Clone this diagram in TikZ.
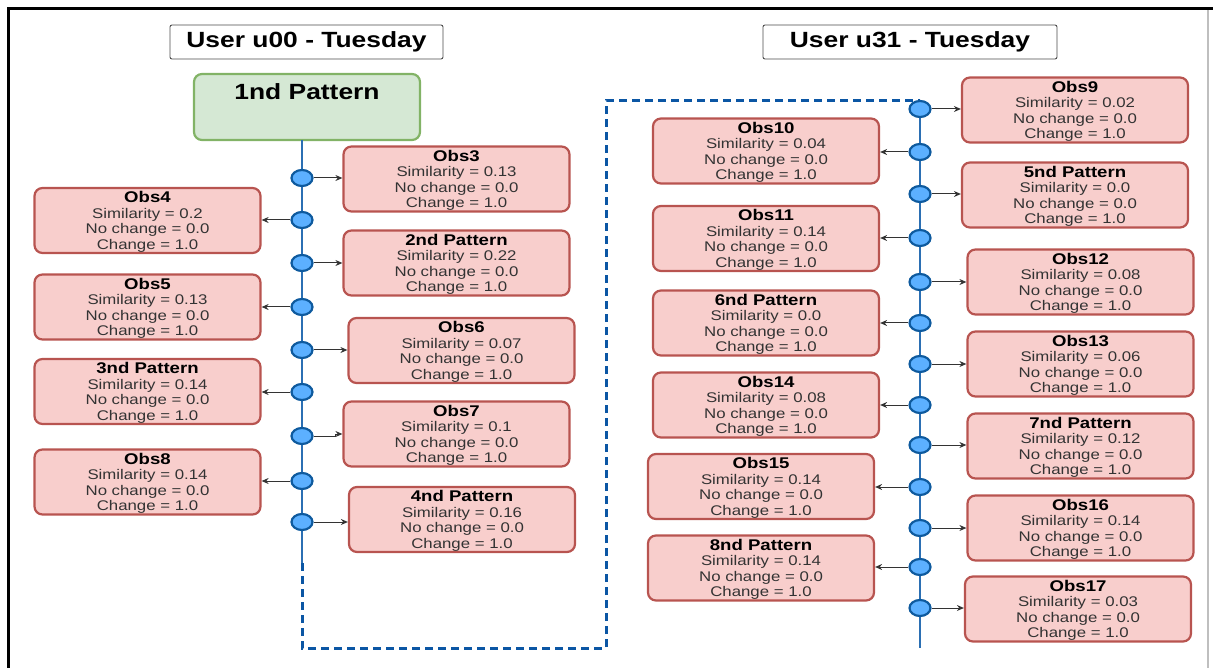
\documentclass[tikz,border=0pt]{standalone}
\usepackage{fontspec}
\setmainfont{Liberation Sans}[FakeStretch=1.2]
\usetikzlibrary{arrows.meta,shapes.geometric}

\definecolor{obsfill}{HTML}{F8CECC}
\definecolor{obsline}{HTML}{B85450}
\definecolor{patfill}{HTML}{D5E8D4}
\definecolor{patline}{HTML}{82B366}
\definecolor{dotfill}{HTML}{5CB0FF}
\definecolor{dotline}{HTML}{0E5A9E}
\definecolor{spineblue}{HTML}{2B6FB3}
\definecolor{bridgeblue}{HTML}{0B56A4}

\newcommand{\obstext}[2]{{\color{black}\fontsize{15.5}{15.5}\selectfont\bfseries #1}\\Similarity = #2\\No change = 0.0\\Change = 1.0}

\begin{document}
\begin{tikzpicture}[
  x=1pt, y=-1pt,
  font=\fontsize{14}{15.5}\selectfont,
  obs/.style={draw=obsline, fill=obsfill, line width=2.2pt, rounded corners=8pt, minimum width=226pt, minimum height=65pt, inner sep=0pt, text depth=0pt, align=center, text=black!80},
  pat/.style={draw=patline, fill=patfill, line width=2.2pt, rounded corners=8pt, minimum width=226pt, minimum height=66pt, inner sep=0pt, text height=26pt, text depth=40pt, font=\fontsize{22}{24}\selectfont\bfseries},
  user/.style={draw=black!70, fill=white, line width=0.9pt, rounded corners=2pt, minimum height=34pt, inner sep=0pt, font=\fontsize{22}{24}\selectfont\bfseries},
  dot/.style={ellipse, draw=dotline, fill=dotfill, line width=2.2pt, minimum width=21pt, minimum height=16pt, inner sep=0pt},
  spine/.style={draw=spineblue, line width=2.4pt},
  bridge/.style={draw=bridgeblue, line width=3pt, dash pattern=on 8pt off 5pt},
  link/.style={-{Stealth[length=7pt,width=6pt]}, line width=1pt, draw=black!80}
]

\useasboundingbox (0,0) rectangle (1213,668);

% frame
\draw[line width=3pt] (1213,9) -- (8,9) -- (8,668);
\draw[black!25, line width=1.2pt] (1208,10.5) -- (1208,668);

\node[user, minimum width=273pt] (u00) at (306.5,42) {User u00 - Tuesday};
\node[user, minimum width=294pt] (u31) at (910,42) {User u31 - Tuesday};

\node[pat] (pat1) at (307,107) {1nd Pattern};

% time lines
\coordinate (ltop) at (302,140);
\coordinate (lend) at (302,563);
\coordinate (lbot) at (302,648);
\coordinate (rtop) at (920,101);
\coordinate (rend) at (920,648);
\draw[spine] (ltop) -- (lend);
\draw[spine] (rtop) -- (rend);
\draw[bridge] (lend) -- (lbot) -| (606,101) -- (rtop);

\foreach \i/\y in {1/178,2/220,3/263,4/307,5/350,6/392,7/436,8/481,9/522}
  \node[dot] (l\i) at (302,\y) {};
\foreach \i/\y in {1/109,2/152,3/194,4/238,5/282,6/323,7/364,8/405,9/445,10/487,11/528,12/567,13/608}
  \node[dot] (r\i) at (920,\y) {};

% user u00
\foreach \i/\x/\y/\t/\s in {1/456.5/179/Obs3/0.13, 2/147.5/220.5/Obs4/0.2,
    3/456.5/263/2nd Pattern/0.22, 4/147.5/307/Obs5/0.13, 5/461.5/350.5/Obs6/0.07,
    6/147.5/391.5/3nd Pattern/0.14, 7/456.5/434/Obs7/0.1, 8/147.5/482/Obs8/0.14,
    9/462/519.5/4nd Pattern/0.16}
  \node[obs] (lb\i) at (\x,\y) {\obstext{\t}{\s}};

% user u31
\foreach \i/\x/\y/\t/\s in {1/1075/110/Obs9/0.02, 2/766/151/Obs10/0.04,
    3/1075/195/5nd Pattern/0.0, 4/766/238.5/Obs11/0.14, 5/1080.5/282/Obs12/0.08,
    6/766/323/6nd Pattern/0.0, 7/1080.5/364/Obs13/0.06, 8/766/405/Obs14/0.08,
    9/1080.5/446/7nd Pattern/0.12, 10/761/486.5/Obs15/0.14, 11/1080.5/528/Obs16/0.14,
    12/761/568/8nd Pattern/0.14, 13/1078/609/Obs17/0.03}
  \node[obs] (rb\i) at (\x,\y) {\obstext{\t}{\s}};

\foreach \i in {1,3,5,9}
  \draw[link] (l\i.east) -- (l\i.east -| lb\i.west);
\foreach \i in {2,4,6,8}
  \draw[link] (l\i.west) -- (l\i.west -| lb\i.east);
\draw[link] (l7.east) -- ++(22,0) |- (lb7.west);

\foreach \i in {1,3,...,13}
  \draw[link] (r\i.east) -- (r\i.east -| rb\i.west);
\foreach \i in {2,4,...,12}
  \draw[link] (r\i.west) -- (r\i.west -| rb\i.east);

\end{tikzpicture}
\end{document}
